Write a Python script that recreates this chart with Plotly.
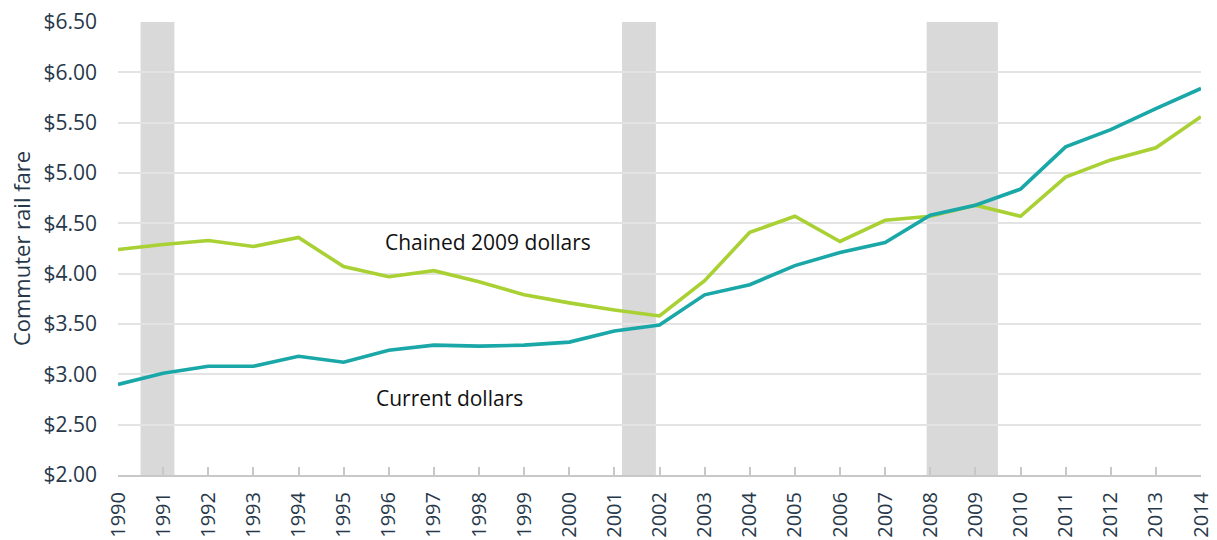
import plotly.graph_objects as go

years = list(range(1990, 2015))
current_dollars = [2.90, 3.01, 3.08, 3.08, 3.18, 3.12, 3.24, 3.29, 3.28, 3.29, 3.32, 3.43, 3.49,
                   3.79, 3.89, 4.08, 4.21, 4.31, 4.58, 4.68, 4.84, 5.26, 5.43, 5.64, 5.84]
chained_2009 = [4.24, 4.29, 4.33, 4.27, 4.36, 4.07, 3.97, 4.03, 3.92, 3.79, 3.71, 3.64, 3.58,
                3.93, 4.41, 4.57, 4.32, 4.53, 4.57, 4.68, 4.57, 4.96, 5.13, 5.25, 5.56]
recessions = [(1990.5, 1991.25), (2001.17, 2001.92), (2007.92, 2009.5)]
y_ticks = [2.0, 2.5, 3.0, 3.5, 4.0, 4.5, 5.0, 5.5, 6.0, 6.5]

TEAL = "#1aa7a8"
GREEN = "#a9d134"
FONT = "Open Sans"

fig = go.Figure()
fig.add_trace(go.Scatter(x=years, y=chained_2009, mode="lines", name="Chained 2009 dollars",
                         line=dict(color=GREEN, width=3.6)))
fig.add_trace(go.Scatter(x=years, y=current_dollars, mode="lines", name="Current dollars",
                         line=dict(color=TEAL, width=3.6)))

for x0, x1 in recessions:
    fig.add_shape(type="rect", xref="x", yref="paper", x0=x0, x1=x1, y0=0, y1=1,
                  fillcolor="#d9d9d9", line=dict(width=0), layer="below")

fig.add_annotation(x=1998.19, y=4.31, text="Chained 2009 dollars", showarrow=False,
                   font=dict(family=FONT, size=21, color="#111111"))
fig.add_annotation(x=1997.35, y=2.765, text="Current dollars", showarrow=False,
                   font=dict(family=FONT, size=21, color="#111111"))

fig.update_layout(
    width=1217, height=540,
    margin=dict(l=118, r=16, t=22, b=65),
    plot_bgcolor="white", paper_bgcolor="white",
    showlegend=False,
    font=dict(family=FONT, size=21, color="#27384a"),
)
fig.update_xaxes(range=[1990, 2014], tickmode="array", tickvals=years,
                 ticktext=[str(y) for y in years], tickangle=-90, automargin=False,
                 showgrid=False, showline=True, linecolor="#c8c8c8", linewidth=2,
                 ticks="inside", ticklen=8, tickcolor="#c8c8c8", tickwidth=2,
                 ticklabelstandoff=7,
                 tickfont=dict(size=20), zeroline=False)
fig.update_yaxes(range=[2.0, 6.5], tickmode="array", tickvals=y_ticks,
                 ticktext=[f"${v:.2f}" for v in y_ticks], automargin=False,
                 showgrid=True, gridcolor="#e3e3e3", gridwidth=2, zeroline=False,
                 showline=False, ticks="", ticklabelstandoff=20,
                 title=dict(text="Commuter rail fare", font=dict(size=22), standoff=6),
                 tickfont=dict(size=21))

fig.write_html("out.html", config={"displayModeBar": False},
               post_script="document.body.style.margin='0';document.body.style.overflow='hidden';")
